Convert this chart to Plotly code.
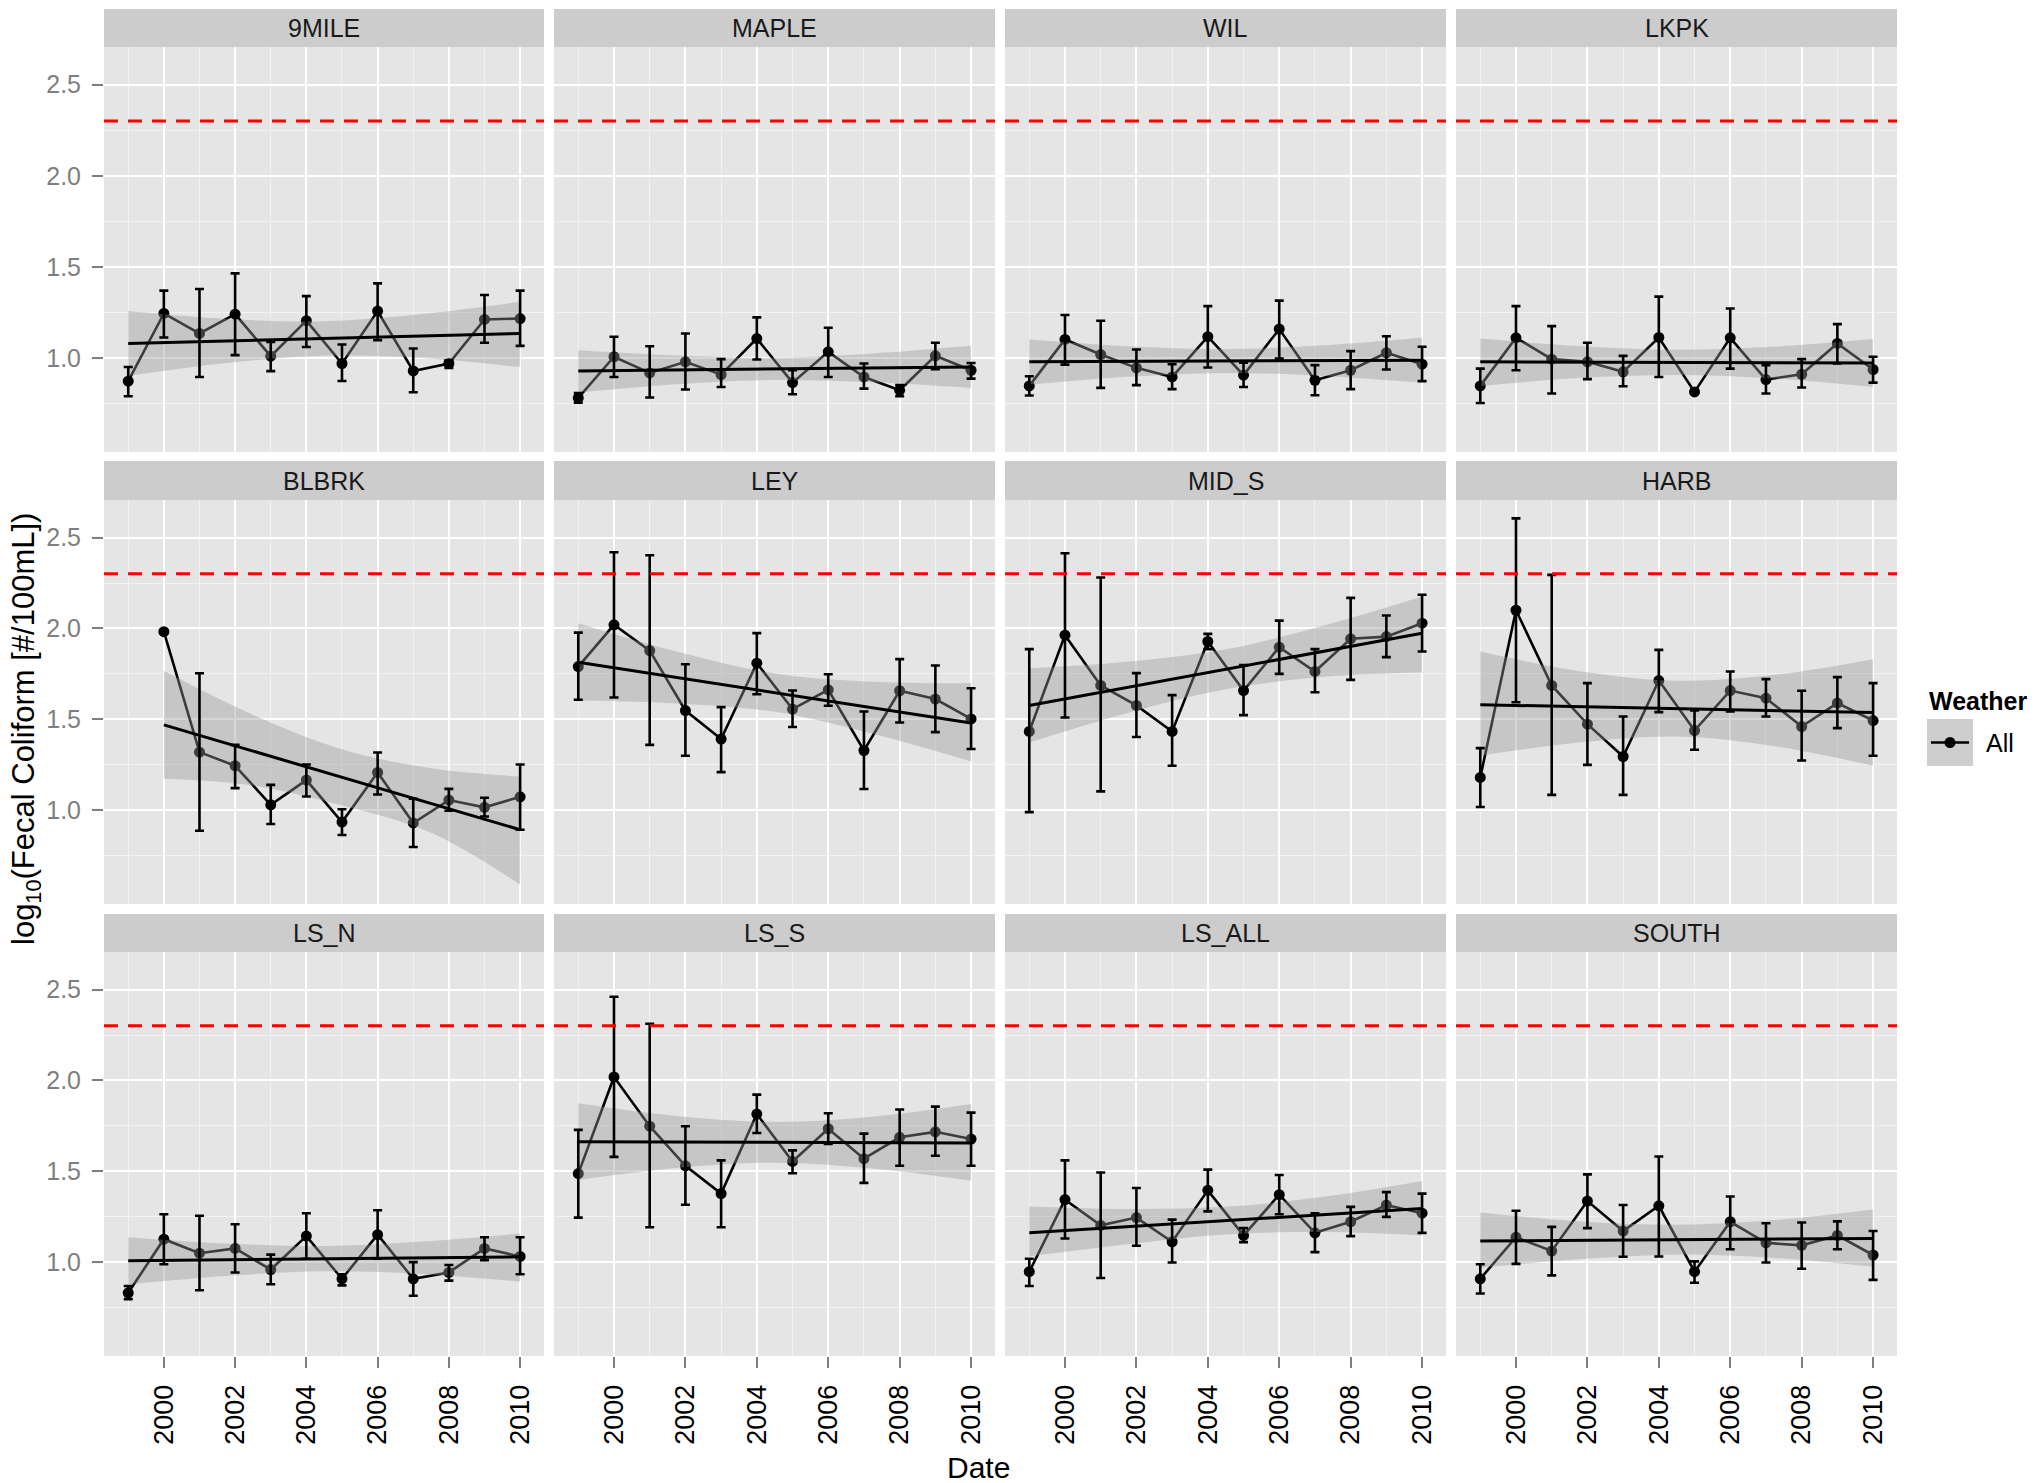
import numpy as np
import plotly.graph_objects as go

W, H = 2036, 1483
FONT = "Liberation Sans, Arial, Helvetica, sans-serif"

# ---------------- data ----------------
YEARS = [1999, 2000, 2001, 2002, 2003, 2004, 2005, 2006, 2007, 2008, 2009, 2010]
STATIONS = ["9MILE", "MAPLE", "WIL", "LKPK",
            "BLBRK", "LEY", "MID_S", "HARB",
            "LS_N", "LS_S", "LS_ALL", "SOUTH"]
THRESHOLD = 2.301          # log10(200)
X_TICKS = [2000, 2002, 2004, 2006, 2008, 2010]
X_TICK_TEXT = ["2000", "2002", "2004", "2006", "2008", "2010"]
X_MINOR = [1999, 2001, 2003, 2005, 2007, 2009, 2011]
Y_TICKS = [1.0, 1.5, 2.0, 2.5]
Y_TICK_TEXT = ["1.0", "1.5", "2.0", "2.5"]
Y_MINOR = [0.75, 1.25, 1.75, 2.25]
LEGEND_TITLE = "Weather"
LEGEND_LABEL = "All"

M_9MILE = [0.872, 1.244, 1.134, 1.240, 1.009, 1.204, 0.969, 1.257, 0.928, 0.969, 1.211, 1.216]
LO_9MILE = [0.789, 1.112, 0.895, 1.015, 0.927, 1.060, 0.873, 1.097, 0.811, 0.945, 1.083, 1.066]
HI_9MILE = [0.950, 1.369, 1.378, 1.464, 1.088, 1.339, 1.073, 1.409, 1.051, 0.987, 1.345, 1.369]
FIT_9MILE = [1.079, 1.134]
RL_9MILE = [0.901, 0.972, 1.012, 0.999, 0.950]
RH_9MILE = [1.257, 1.214, 1.201, 1.241, 1.308]

M_MAPLE = [0.780, 1.006, 0.917, 0.978, 0.908, 1.106, 0.864, 1.033, 0.895, 0.822, 1.011, 0.932]
LO_MAPLE = [0.754, 0.895, 0.782, 0.826, 0.840, 0.991, 0.800, 0.895, 0.831, 0.789, 0.938, 0.886]
HI_MAPLE = [0.807, 1.116, 1.064, 1.134, 0.993, 1.222, 0.932, 1.165, 0.969, 0.850, 1.083, 0.972]
FIT_MAPLE = [0.928, 0.950]
RL_MAPLE = [0.809, 0.855, 0.878, 0.866, 0.835]
RH_MAPLE = [1.042, 1.013, 1.000, 1.024, 1.066]

M_WIL = [0.846, 1.101, 1.018, 0.945, 0.895, 1.116, 0.905, 1.158, 0.877, 0.932, 1.028, 0.965]
LO_WIL = [0.793, 0.963, 0.835, 0.850, 0.828, 0.947, 0.840, 0.996, 0.795, 0.828, 0.936, 0.872]
HI_WIL = [0.899, 1.235, 1.204, 1.046, 0.965, 1.284, 0.974, 1.314, 0.960, 1.037, 1.119, 1.061]
FIT_WIL = [0.978, 0.987]
RL_WIL = [0.853, 0.896, 0.917, 0.901, 0.864]
RH_WIL = [1.101, 1.064, 1.048, 1.069, 1.112]

M_LKPK = [0.846, 1.110, 0.993, 0.978, 0.923, 1.112, 0.813, 1.110, 0.881, 0.910, 1.079, 0.936]
LO_LKPK = [0.752, 0.932, 0.804, 0.883, 0.844, 0.895, 0.806, 0.941, 0.804, 0.837, 0.969, 0.864]
HI_LKPK = [0.941, 1.284, 1.174, 1.083, 1.011, 1.336, 0.820, 1.271, 0.960, 0.993, 1.185, 1.006]
FIT_LKPK = [0.978, 0.972]
RL_LKPK = [0.846, 0.889, 0.906, 0.886, 0.840]
RH_LKPK = [1.106, 1.065, 1.044, 1.062, 1.103]

M_BLBRK = [None, 1.982, 1.319, 1.244, 1.029, 1.165, 0.934, 1.207, 0.929, 1.055, 1.015, 1.073]
LO_BLBRK = [None, None, 0.886, 1.121, 0.923, 1.075, 0.863, 1.086, 0.797, 0.996, 0.965, 0.892]
HI_BLBRK = [None, None, 1.753, 1.359, 1.139, 1.251, 1.005, 1.317, 1.062, 1.117, 1.068, 1.251]
FIT_BLBRK = [1.469, 0.892]
RL_BLBRK = [1.172, 1.135, 1.025, 0.875, 0.590]
RH_BLBRK = [1.767, 1.525, 1.335, 1.230, 1.185]

M_LEY = [1.790, 2.020, 1.878, 1.548, 1.391, 1.809, 1.556, 1.662, 1.328, 1.657, 1.611, 1.502]
LO_LEY = [1.607, 1.620, 1.359, 1.299, 1.209, 1.638, 1.457, 1.574, 1.116, 1.482, 1.429, 1.336]
HI_LEY = [1.977, 2.419, 2.403, 1.803, 1.567, 1.974, 1.658, 1.748, 1.543, 1.831, 1.796, 1.671]
FIT_LEY = [1.814, 1.479]
RL_LEY = [1.603, 1.587, 1.541, 1.420, 1.268]
RH_LEY = [2.029, 1.873, 1.752, 1.706, 1.699]

M_MID_S = [1.433, 1.963, 1.686, 1.576, 1.433, 1.928, 1.658, 1.897, 1.763, 1.943, 1.955, 2.029]
LO_MID_S = [0.989, 1.510, 1.103, 1.402, 1.244, 1.886, 1.523, 1.750, 1.649, 1.717, 1.842, 1.873]
HI_MID_S = [1.886, 2.414, 2.280, 1.754, 1.633, 1.970, 1.798, 2.043, 1.886, 2.168, 2.071, 2.185]
FIT_MID_S = [1.576, 1.974]
RL_MID_S = [1.372, 1.535, 1.665, 1.734, 1.757]
RH_MID_S = [1.781, 1.817, 1.885, 2.016, 2.176]

M_HARB = [1.180, 2.100, 1.686, 1.473, 1.295, 1.713, 1.438, 1.658, 1.616, 1.460, 1.589, 1.493]
LO_HARB = [1.017, 1.594, 1.084, 1.249, 1.084, 1.539, 1.332, 1.543, 1.515, 1.273, 1.451, 1.299]
HI_HARB = [1.341, 2.606, 2.295, 1.699, 1.515, 1.882, 1.548, 1.763, 1.721, 1.657, 1.732, 1.699]
FIT_HARB = [1.580, 1.537]
RL_HARB = [1.299, 1.372, 1.405, 1.351, 1.244]
RH_HARB = [1.873, 1.766, 1.712, 1.745, 1.831]

M_LS_N = [0.831, 1.126, 1.049, 1.075, 0.959, 1.143, 0.908, 1.151, 0.908, 0.943, 1.075, 1.031]
LO_LS_N = [0.796, 0.988, 0.845, 0.943, 0.878, 1.018, 0.872, 1.018, 0.815, 0.898, 1.010, 0.933]
HI_LS_N = [0.868, 1.263, 1.255, 1.208, 1.041, 1.269, 0.933, 1.285, 1.000, 0.984, 1.137, 1.137]
FIT_LS_N = [1.008, 1.029]
RL_LS_N = [0.878, 0.924, 0.949, 0.935, 0.892]
RH_LS_N = [1.137, 1.102, 1.088, 1.113, 1.157]

M_LS_S = [1.487, 2.019, 1.748, 1.530, 1.377, 1.815, 1.554, 1.734, 1.569, 1.687, 1.717, 1.677]
LO_LS_S = [1.245, 1.579, 1.192, 1.316, 1.192, 1.711, 1.489, 1.650, 1.436, 1.530, 1.585, 1.530]
HI_LS_S = [1.728, 2.461, 2.312, 1.748, 1.560, 1.922, 1.615, 1.819, 1.707, 1.840, 1.856, 1.823]
FIT_LS_S = [1.662, 1.656]
RL_LS_S = [1.452, 1.518, 1.547, 1.515, 1.448]
RH_LS_S = [1.874, 1.804, 1.771, 1.800, 1.870]

M_LS_ALL = [0.947, 1.344, 1.202, 1.245, 1.112, 1.395, 1.147, 1.371, 1.161, 1.222, 1.314, 1.269]
LO_LS_ALL = [0.868, 1.130, 0.912, 1.090, 0.998, 1.279, 1.110, 1.263, 1.055, 1.143, 1.249, 1.161]
HI_LS_ALL = [1.018, 1.560, 1.493, 1.408, 1.234, 1.509, 1.187, 1.479, 1.269, 1.304, 1.385, 1.377]
FIT_LS_ALL = [1.161, 1.295]
RL_LS_ALL = [1.031, 1.098, 1.152, 1.165, 1.147]
RH_LS_ALL = [1.306, 1.292, 1.304, 1.359, 1.446]

M_SOUTH = [0.908, 1.137, 1.061, 1.336, 1.171, 1.310, 0.947, 1.222, 1.106, 1.092, 1.147, 1.039]
LO_SOUTH = [0.827, 0.990, 0.927, 1.187, 1.029, 1.031, 0.886, 1.071, 0.998, 0.963, 1.071, 0.902]
HI_SOUTH = [0.988, 1.283, 1.194, 1.483, 1.314, 1.581, 1.004, 1.361, 1.214, 1.218, 1.224, 1.171]
FIT_SOUTH = [1.116, 1.130]
RL_SOUTH = [0.969, 1.015, 1.041, 1.022, 0.974]
RH_SOUTH = [1.273, 1.225, 1.205, 1.231, 1.289]

FIT_START = [1999, 1999, 1999, 1999, 2000, 1999, 1999, 1999, 1999, 1999, 1999, 1999]
FIT_END = 2010

MEANS = [M_9MILE, M_MAPLE, M_WIL, M_LKPK, M_BLBRK, M_LEY, M_MID_S, M_HARB,
         M_LS_N, M_LS_S, M_LS_ALL, M_SOUTH]
LOWS = [LO_9MILE, LO_MAPLE, LO_WIL, LO_LKPK, LO_BLBRK, LO_LEY, LO_MID_S, LO_HARB,
        LO_LS_N, LO_LS_S, LO_LS_ALL, LO_SOUTH]
HIGHS = [HI_9MILE, HI_MAPLE, HI_WIL, HI_LKPK, HI_BLBRK, HI_LEY, HI_MID_S, HI_HARB,
         HI_LS_N, HI_LS_S, HI_LS_ALL, HI_SOUTH]
FITS = [FIT_9MILE, FIT_MAPLE, FIT_WIL, FIT_LKPK, FIT_BLBRK, FIT_LEY, FIT_MID_S, FIT_HARB,
        FIT_LS_N, FIT_LS_S, FIT_LS_ALL, FIT_SOUTH]
RIB_LO = [RL_9MILE, RL_MAPLE, RL_WIL, RL_LKPK, RL_BLBRK, RL_LEY, RL_MID_S, RL_HARB,
          RL_LS_N, RL_LS_S, RL_LS_ALL, RL_SOUTH]
RIB_HI = [RH_9MILE, RH_MAPLE, RH_WIL, RH_LKPK, RH_BLBRK, RH_LEY, RH_MID_S, RH_HARB,
          RH_LS_N, RH_LS_S, RH_LS_ALL, RH_SOUTH]

# ---------------- layout geometry (pixels) ----------------
COLS = [(104, 544), (554, 995), (1005, 1446), (1456, 1897)]
ROWS = [(47, 452), (500, 904), (952, 1356)]
STRIPS = [(9, 47), (461, 500), (914, 952)]
X_RANGE = [1998.32, 2010.67]
Y_RANGE = [0.483, 2.707]

BG = "#E5E5E5"
GRID_MAJOR = "#FFFFFF"
GRID_MINOR = "#F2F2F2"
TICK_GREY = "#7F7F7F"
RIBBON = "rgba(153,153,153,0.4)"

fig = go.Figure()
layout = dict(
    width=W, height=H,
    margin=dict(l=0, r=0, t=0, b=0),
    paper_bgcolor="white",
    plot_bgcolor=BG,
    showlegend=False,
    font=dict(family=FONT, color="black"),
    shapes=[], annotations=[],
)

for i, st in enumerate(STATIONS):
    r, c = divmod(i, 4)
    k = i + 1
    xa = "x" if k == 1 else f"x{k}"
    ya = "y" if k == 1 else f"y{k}"
    x0, x1 = COLS[c]
    y0, y1 = ROWS[r]
    bottom = (r == 2)
    left = (c == 0)

    layout[f"xaxis{k}"] = dict(
        domain=[x0 / W, x1 / W], anchor=ya, range=X_RANGE,
        showgrid=True, gridcolor=GRID_MAJOR, gridwidth=2.4,
        zeroline=False, showline=False,
        tickmode="array", tickvals=X_TICKS, ticktext=X_TICK_TEXT,
        showticklabels=bottom, ticks="outside" if bottom else "",
        ticklen=11, tickwidth=2, tickcolor=TICK_GREY,
        tickangle=-90, ticklabelstandoff=6,
        tickfont=dict(size=27, color="black", family=FONT),
        minor=dict(tickmode="array", tickvals=X_MINOR, showgrid=True,
                   gridcolor=GRID_MINOR, gridwidth=1.2, ticks=""),
        fixedrange=True,
    )
    layout[f"yaxis{k}"] = dict(
        domain=[1 - y1 / H, 1 - y0 / H], anchor=xa, range=Y_RANGE,
        showgrid=True, gridcolor=GRID_MAJOR, gridwidth=2.4,
        zeroline=False, showline=False,
        tickmode="array", tickvals=Y_TICKS, ticktext=Y_TICK_TEXT,
        showticklabels=left, ticks="outside" if left else "",
        ticklen=11, tickwidth=2, tickcolor=TICK_GREY, ticklabelstandoff=6,
        tickfont=dict(size=25, color=TICK_GREY, family=FONT),
        minor=dict(tickmode="array", tickvals=Y_MINOR, showgrid=True,
                   gridcolor=GRID_MINOR, gridwidth=1.2, ticks=""),
        fixedrange=True,
    )

    mean = MEANS[i]
    lo = LOWS[i]
    hi = HIGHS[i]

    # mean line with points
    fig.add_trace(go.Scatter(
        x=YEARS, y=mean, mode="lines+markers", xaxis=xa, yaxis=ya,
        line=dict(color="black", width=2.6),
        marker=dict(size=11, color="black"),
        hoverinfo="skip",
    ))

    # confidence ribbon of the linear fit
    rx = list(np.linspace(FIT_START[i], FIT_END, len(RIB_LO[i])))
    fig.add_trace(go.Scatter(
        x=rx, y=RIB_LO[i], mode="lines", xaxis=xa, yaxis=ya,
        line=dict(width=0, shape="spline", color="rgba(0,0,0,0)"),
        hoverinfo="skip",
    ))
    fig.add_trace(go.Scatter(
        x=rx, y=RIB_HI[i], mode="lines", xaxis=xa, yaxis=ya,
        line=dict(width=0, shape="spline", color="rgba(0,0,0,0)"),
        fill="tonexty", fillcolor=RIBBON, hoverinfo="skip",
    ))

    # error bars
    ex, ey, eplus, eminus = [], [], [], []
    for yr, m, l, h in zip(YEARS, mean, lo, hi):
        if m is None or l is None or h is None:
            continue
        ex.append(yr)
        ey.append(m)
        eplus.append(h - m)
        eminus.append(m - l)
    fig.add_trace(go.Scatter(
        x=ex, y=ey, mode="markers", xaxis=xa, yaxis=ya,
        marker=dict(size=1, color="rgba(0,0,0,0)"),
        error_y=dict(type="data", symmetric=False, array=eplus, arrayminus=eminus,
                     color="black", thickness=2.6, width=4.5),
        hoverinfo="skip",
    ))

    # linear fit line
    fig.add_trace(go.Scatter(
        x=[FIT_START[i], FIT_END], y=FITS[i], mode="lines", xaxis=xa, yaxis=ya,
        line=dict(color="black", width=3), hoverinfo="skip",
    ))

    # threshold line
    layout["shapes"].append(dict(
        type="line", xref=f"{xa} domain", yref=ya, x0=0, x1=1,
        y0=THRESHOLD, y1=THRESHOLD,
        line=dict(color="#FF0000", width=3, dash="14px,10px"),
    ))

    # strip
    s0, s1 = STRIPS[r]
    layout["shapes"].append(dict(
        type="rect", xref="paper", yref="paper",
        x0=x0 / W, x1=x1 / W, y0=1 - s1 / H, y1=1 - s0 / H,
        fillcolor="#CCCCCC", line=dict(width=0), layer="below",
    ))
    layout["annotations"].append(dict(
        text=st, xref="paper", yref="paper",
        x=(x0 + x1) / 2 / W, y=1 - (s0 + s1) / 2 / H,
        xanchor="center", yanchor="middle", showarrow=False,
        font=dict(size=25, color="#1A1A1A", family=FONT),
    ))

# axis titles
layout["annotations"].append(dict(
    text="log<sub>10</sub>(Fecal Coliform [#/100mL])", xref="paper", yref="paper",
    x=26 / W, y=1 - 729 / H, textangle=-90, xanchor="center", yanchor="middle",
    showarrow=False, font=dict(size=31, color="black", family=FONT),
))
layout["annotations"].append(dict(
    text="Date", xref="paper", yref="paper",
    x=978 / W, y=1 - 1467 / H, xanchor="center", yanchor="middle",
    showarrow=False, font=dict(size=30, color="black", family=FONT),
))

# legend (drawn manually, ggplot style)
layout["annotations"].append(dict(
    text="<b>" + LEGEND_TITLE + "</b>", xref="paper", yref="paper",
    x=1927 / W, y=1 - 701 / H, xanchor="left", yanchor="middle",
    showarrow=False, font=dict(size=25, color="black", family=FONT),
))
layout["shapes"].append(dict(
    type="rect", xref="paper", yref="paper",
    x0=1927 / W, x1=1973 / W, y0=1 - 766 / H, y1=1 - 719 / H,
    fillcolor="#CECECE", line=dict(width=0),
))
layout["shapes"].append(dict(
    type="line", xref="paper", yref="paper",
    x0=1931 / W, x1=1969 / W, y0=1 - 742.5 / H, y1=1 - 742.5 / H,
    line=dict(color="black", width=2.6),
))
layout["shapes"].append(dict(
    type="circle", xref="paper", yref="paper",
    x0=1944.5 / W, x1=1955.5 / W, y0=1 - 748 / H, y1=1 - 737 / H,
    fillcolor="black", line=dict(width=0),
))
layout["annotations"].append(dict(
    text=LEGEND_LABEL, xref="paper", yref="paper",
    x=1984 / W, y=1 - 743 / H, xanchor="left", yanchor="middle",
    showarrow=False, font=dict(size=25, color="black", family=FONT),
))

fig.update_layout(**layout)
fig.write_html(
    "out.html",
    config={"displayModeBar": False},
    post_script="document.body.style.margin='0px';document.body.style.overflow='hidden';",
)
